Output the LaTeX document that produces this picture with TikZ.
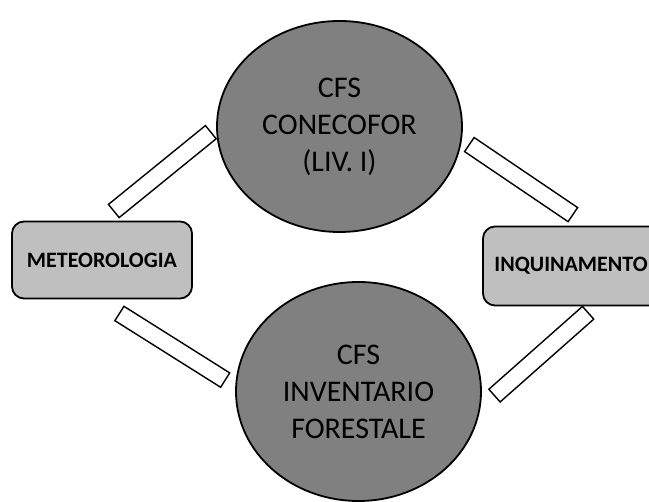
\documentclass[tikz,border=0pt]{standalone}
\usepackage{fontspec}
\setmainfont{Carlito}
\usetikzlibrary{shapes.geometric}
\definecolor{ink}{HTML}{000000}
\definecolor{blobFill}{HTML}{808080}
\definecolor{topicFill}{HTML}{BFBFBF}
\tikzset{
  blob/.style={ellipse,draw=ink,line width=1.8pt,fill=blobFill,inner sep=0pt,
    align=center,text=ink,font=\fontsize{30}{37}\selectfont},
  topic/.style={draw=ink,line width=1.8pt,fill=topicFill,rounded corners=12pt,
    minimum width=180pt,minimum height=77pt,inner sep=0pt,text=ink,
    font=\fontsize{22}{26}\selectfont\bfseries},
  link/.style={draw=ink,line width=1.4pt,fill=white,minimum width=125pt,
    minimum height=17pt,inner sep=0pt}}
\begin{document}
\begin{tikzpicture}[x=1pt,y=1pt]
\clip (0,0) rectangle (649,502);
\node[blob,minimum width=245pt,minimum height=211pt] (liv) at (339.5,375.5) {CFS\\CONECOFOR\\(LIV. I)};
\node[blob,minimum width=245pt,minimum height=219pt] (inv) at (358.5,110.5) {CFS\\INVENTARIO\\FORESTALE};
\node[topic] (meteo) at (102,242) {METEOROLOGIA};
\node[topic,minimum height=79pt] (inq) at (573,236) {\hspace*{-4pt}INQUINAMENTO};
% barre di collegamento
\node[link,rotate=39.1] (l1) at (162.3,330.4) {};
\node[link,rotate=-32.2] (l2) at (172.3,155.2) {};
\node[link,rotate=-34.1] (l3) at (521.1,322.4) {};
\node[link,rotate=41.5] (l4) at (541.3,147.8) {};
\end{tikzpicture}
\end{document}
